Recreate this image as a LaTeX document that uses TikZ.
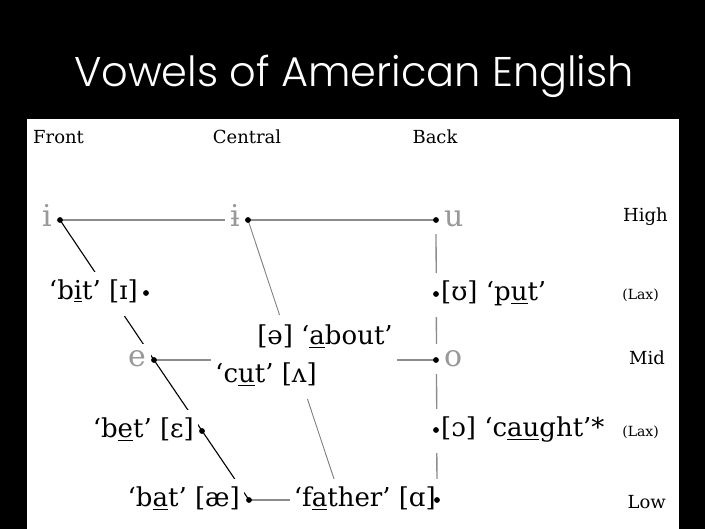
\documentclass[tikz,border=0pt]{standalone}
\usepackage{fontspec}
\setmainfont{DejaVu Serif}
\newfontfamily\titlefont{Poppins}[UprightFont=* Light]
\begin{document}
\begin{tikzpicture}[x=1pt,y=-1pt,
  vowel/.style={text=black!40,fill=white,inner ysep=5pt,inner xsep=5pt,
    font=\fontsize{30}{30}\selectfont,text height=18pt,text depth=2pt},
  word/.style={fill=white,inner xsep=4pt,inner ysep=9pt,
    font=\fontsize{26}{28}\selectfont,text height=19pt,text depth=7pt},
  axis/.style={inner sep=0pt,font=\fontsize{18}{20}\selectfont},
  lax/.style={inner sep=0pt,font=\fontsize{14}{15}\selectfont},
  grid/.style={black!45,line width=1.3pt},
  slant/.style={black,line width=1.1pt},
  midline/.style={black!50,line width=0.9pt}]
  \useasboundingbox (0,0) rectangle (705,529);
  \fill[black] (0,0) rectangle (705,529);
  \fill[white] (27,119) rectangle (679,529);
  \node[anchor=base,text=white,inner sep=0pt,
    font=\titlefont\fontsize{41.5}{48}\selectfont] (title) at (354,87)
    {Vowels of American English};
  % column and row heads
  \node[axis,anchor=west] (front) at (33,137) {Front};
  \node[axis] (central) at (247,137) {Central};
  \node[axis] (back) at (435,137) {Back};
  \node[axis,anchor=east] (high) at (668,217) {High};
  \node[lax,anchor=east] (laxA) at (659,295) {(Lax)};
  \node[axis,anchor=east] (mid) at (665,358) {Mid};
  \node[lax,anchor=east] (laxB) at (659,432) {(Lax)};
  \node[axis,anchor=east] (low) at (666,502) {Low};
  % vowel points
  \coordinate (iP) at (60,220);
  \coordinate (barP) at (248,220);
  \coordinate (uP) at (436,220);
  \coordinate (ihP) at (146,293);
  \coordinate (upsP) at (436,294);
  \coordinate (eP) at (154,360);
  \coordinate (oP) at (436,360);
  \coordinate (epsP) at (202,431);
  \coordinate (openoP) at (436,430);
  \coordinate (aeP) at (249,500);
  \coordinate (ahP) at (437,500);
  \coordinate (cP) at (341,500);
  \draw[grid] (iP) -- (barP) -- (uP);
  \draw[grid] (eP) -- (oP);
  \draw[grid] (uP) -- (ahP);
  \draw[grid] (aeP) -- (ahP);
  \draw[slant] (iP) -- (eP) -- (aeP);
  \draw[midline] (barP) -- (cP);
  % cardinal vowels
  \node[vowel,anchor=east] (i) at (57,219) {i};
  \node[vowel,anchor=east] (bar) at (245,219) {ɨ};
  \node[vowel,anchor=west,inner xsep=10pt] (u) at (434,219) {u};
  \node[vowel,anchor=east] (e) at (151,359) {e};
  \node[vowel,anchor=west,inner xsep=10pt] (o) at (434,359) {o};
  % words
  \node[word,anchor=east] (bit) at (142,294) {‘b\underline{i}t’ [ɪ]};
  \node[word,anchor=west] (put) at (433,295) {\hspace{4pt}[ʊ] ‘p\underline{u}t’};
  \node[word,inner ysep=11pt] (about) at (325,339) {[ə] ‘\underline{a}bout’};
  \node[word] (cut) at (266,377) {‘c\underline{u}t’ [ʌ]};
  \node[word,anchor=east] (bet) at (198,432) {‘b\underline{e}t’ [ɛ]};
  \node[word,anchor=west] (caught) at (433,431) {\hspace{4pt}[ɔ] ‘c\underline{au}ght’*};
  \node[word,anchor=east] (bat) at (244,501) {‘b\underline{a}t’ [æ]};
  \node[word,anchor=east] (father) at (440,501) {‘f\underline{a}ther’ [ɑ]\hspace{5pt}};
  \foreach \p in {iP,barP,uP,ihP,upsP,eP,oP,epsP,openoP,aeP,ahP}
    \fill (\p) circle (2.9pt);
\end{tikzpicture}
\end{document}
